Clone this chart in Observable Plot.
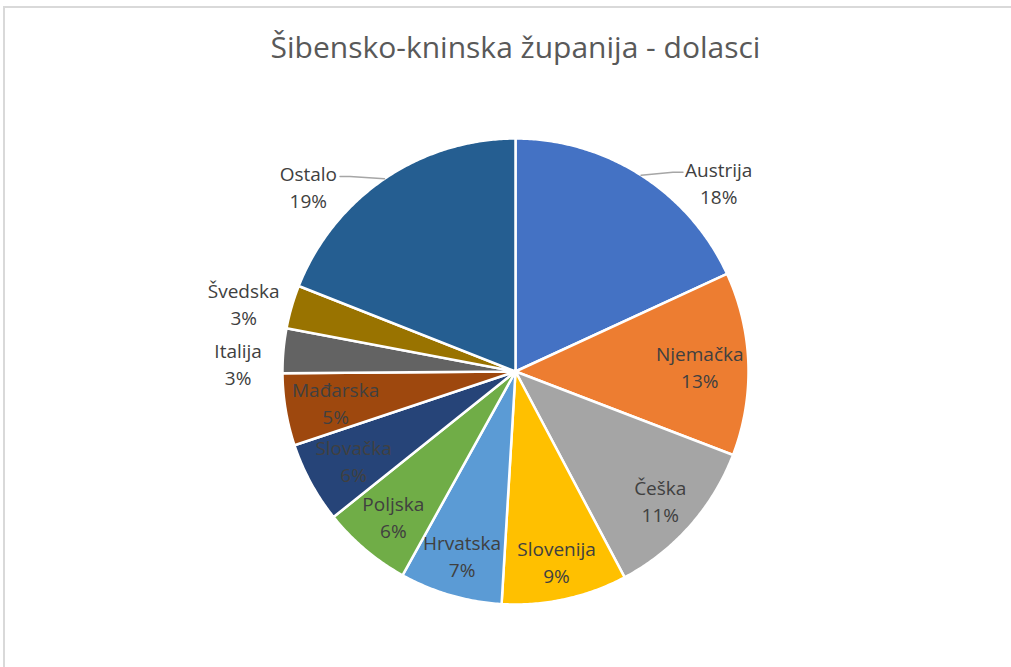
<!DOCTYPE html>
<html>
<head>
<meta charset="utf-8">
<script src="https://cdn.jsdelivr.net/npm/d3@7"></script>
<script src="https://cdn.jsdelivr.net/npm/@observablehq/plot@0.6"></script>
<style>
  html, body { margin: 0; padding: 0; background: #fff; }
  #wrap { position: relative; width: 1011px; height: 667px; overflow: hidden; font-family: "Open Sans", sans-serif; }
  #frame { position: absolute; left: 3px; top: 6px; width: 1020px; height: 700px; border-top: 2px solid #d9d9d9; border-left: 2px solid #d9d9d9; box-sizing: border-box; }
  #title { position: absolute; left: 20px; top: 27px; width: 991px; text-align: center; font-size: 30px; line-height: 40px; color: #595959; font-weight: 400; }
  #chart { position: absolute; left: 0; top: 0; }
</style>
</head>
<body>
<div id="wrap">
  <div id="frame"></div>
  <div id="chart"></div>
  <div id="title">Šibensko-kninska županija - dolasci</div>
</div>
<script>
// ---- data ----
const countries = ["Austrija", "Njemačka", "Češka", "Slovenija", "Hrvatska", "Poljska", "Slovačka", "Mađarska", "Italija", "Švedska", "Ostalo"];
const shares = [18.1, 12.7, 11.4, 8.7, 7.1, 6.2, 5.6, 5.0, 3.1, 3.0, 19.0];
const colors = ["#4472C4", "#ED7D31", "#A5A5A5", "#FFC000", "#5B9BD5", "#70AD47", "#264478", "#9E480E", "#636363", "#997300", "#255E91"];
const outsideLabels = ["Austrija", "Italija", "Švedska", "Ostalo"];

// ---- layout ----
const W = 1011, H = 667, CX = 515, CY = 371, R = 233;
const FONT_SIZE = 19, LINE_H = 27, TEXT_COLOR = "#404040";
const total = d3.sum(shares);
const slices = d3.pie().sort(null).value(d => d.v)(countries.map((name, i) => ({name, v: shares[i], color: colors[i]})));

const ctx = document.createElement("canvas").getContext("2d");
ctx.font = `${FONT_SIZE}px "Open Sans"`;
const measure = s => ctx.measureText(s).width;

// unit coords: 1 = radius
const px = v => v / R;
const polar = (a, r) => ({x: Math.sin(a) * r, y: -Math.cos(a) * r});

const wedgeMarks = slices.map(s => {
  const pts = [{x: 0, y: 0}];
  const n = Math.max(2, Math.ceil((s.endAngle - s.startAngle) / (Math.PI / 360)));
  for (let k = 0; k <= n; k++) {
    const a = s.startAngle + (s.endAngle - s.startAngle) * k / n;
    pts.push(polar(a, 1));
  }
  return Plot.line(pts, {x: "x", y: "y", fill: s.data.color, stroke: "white", strokeWidth: 2.5, strokeLinejoin: "round", curve: "linear-closed"});
});

const labels = [];
const leaders = [];
const outside = [];
slices.forEach(s => {
  const name = s.data.name;
  const pct = Math.round(s.data.v / total * 100) + "%";
  const w = Math.max(measure(name), measure(pct));
  const h = 2 * LINE_H;
  const mid = (s.startAngle + s.endAngle) / 2;
  if (!outsideLabels.includes(name)) {
    let d = 0.86 * R;
    const fits = d => {
      const c = polar(mid, d);
      for (const sx of [-1, 1]) for (const sy of [-1, 1]) {
        const cx = c.x + sx * w / 2, cy = c.y + sy * h / 2;
        if (Math.hypot(cx, cy) > R - 2) return false;
      }
      return true;
    };
    while (d > 0.4 * R && !fits(d)) d -= 1;
    const c = polar(mid, d);
    labels.push({x: px(c.x), y: px(c.y), text: name + "\n" + pct});
  } else {
    const deg = mid * 180 / Math.PI;
    const hor = deg < 180 ? 90 : 270;
    const la = (deg + 0.25 * (hor - deg)) * Math.PI / 180;
    const c = polar(la, 278);
    outside.push({name, pct, w, h, mid, x: c.x, y: c.y});
  }
});
// resolve vertical overlaps per side
for (const side of [-1, 1]) {
  const group = outside.filter(o => Math.sign(o.x) === side).sort((a, b) => a.y - b.y);
  for (let it = 0; it < 20; it++) {
    for (let i = 1; i < group.length; i++) {
      const a = group[i - 1], b = group[i];
      const need = (a.h + b.h) / 2 + 6;
      if (b.y - a.y < need) {
        const m = (a.y + b.y) / 2;
        a.y = m - need / 2; b.y = m + need / 2;
      }
    }
  }
}
outside.forEach(o => {
  labels.push({x: px(o.x), y: px(o.y), text: o.name + "\n" + o.pct});
  const P = polar(o.mid, R);
  const right = o.x > 0;
  const ex = right ? o.x - o.w / 2 - 2 : o.x + o.w / 2 + 3;
  const ey = o.y - LINE_H / 2 + 4;
  if (Math.abs(ex - P.x) > 28) {
    const elbowX = right ? ex - 10 : ex + 10;
    leaders.push([
      {x: px(P.x), y: px(P.y)},
      {x: px(elbowX), y: px(ey)},
      {x: px(ex), y: px(ey)}
    ]);
  }
});

const chart = Plot.plot({
  width: W,
  height: H,
  margin: 0,
  style: {background: "transparent", overflow: "visible"},
  x: {domain: [-CX / R, (W - CX) / R], range: [0, W], axis: null},
  y: {domain: [-CY / R, (H - CY) / R], range: [0, H], axis: null},
  marks: [
    ...wedgeMarks,
    ...leaders.map(l => Plot.line(l, {x: "x", y: "y", stroke: "#a6a6a6", strokeWidth: 1.5})),
    Plot.text(labels, {x: "x", y: "y", text: "text", fill: TEXT_COLOR, fontSize: FONT_SIZE, fontFamily: "Open Sans", lineHeight: LINE_H / FONT_SIZE, textAnchor: "middle"})
  ]
});
document.getElementById("chart").appendChild(chart);
</script>
</body>
</html>
